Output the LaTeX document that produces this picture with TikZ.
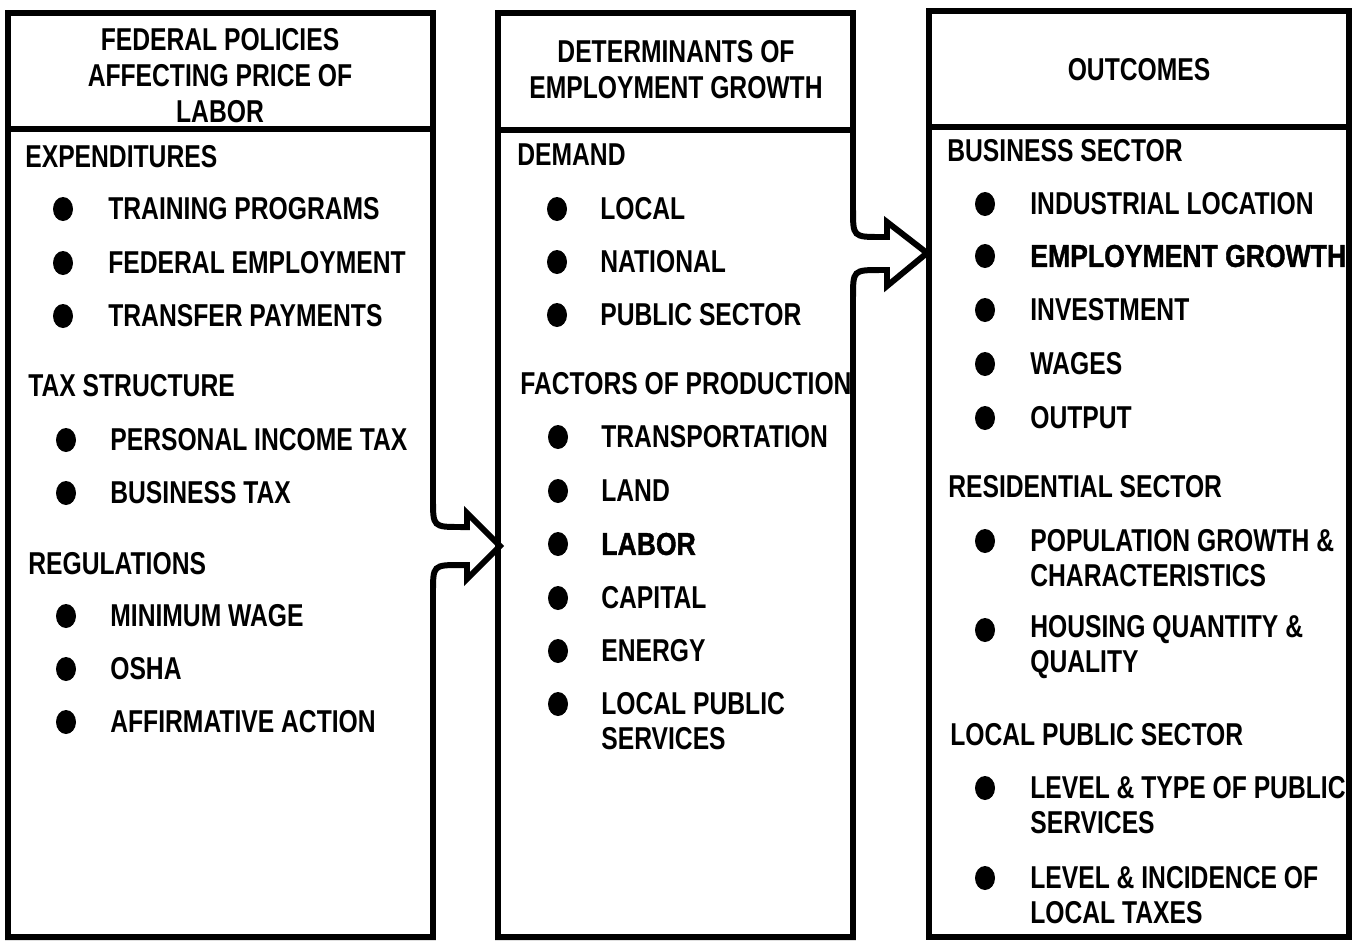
\documentclass[tikz,border=0pt]{standalone}
\usepackage{fontspec}
\setmainfont{Liberation Sans}[FakeStretch=0.78]
\newfontfamily\heavyfont{Liberation Sans}[FakeStretch=0.84, FakeBold=1.2]

\begin{document}
\begin{tikzpicture}[x=0.02cm, y=-0.02cm,
    panel/.style={line width=3.4pt},
    divider/.style={line width=3pt},
    headtext/.style={align=center, inner sep=0pt, font=\bfseries\fontsize{18}{20.5}\selectfont},
    itemtext/.style={anchor=west, align=left, inner sep=0pt, font=\bfseries\fontsize{18}{20}\selectfont}]
    \useasboundingbox (0,0) rectangle (1352,941);

    % Left panel with arrow into the middle panel
    \draw[panel] (8,13) -- (433,13) -- (433,499) .. controls (433,527) .. (461,527)
        -- (467,527) -- (467,513) -- (500,546) -- (467,579) -- (467,565) -- (461,565)
        .. controls (433,565) .. (433,593) -- (433,937) -- (8,937) -- cycle;
    \draw[divider] (8,129) -- (433,129);

    % Middle panel with arrow into the right panel
    \draw[panel] (498,13) -- (853,13) -- (853,209) .. controls (853,237) .. (881,237)
        -- (887,237) -- (887,222) -- (927,253) -- (887,286) -- (887,270) -- (881,270)
        .. controls (853,270) .. (853,298) -- (853,937) -- (498,937) -- cycle;
    \draw[divider] (498,130) -- (853,130);

    % Right panel
    \draw[panel] (929,11) -- (1349,11) -- (1349,937) -- (929,937) -- cycle;
    \draw[divider] (929,127) -- (1349,127);

    % Headings
    \node[headtext] (fedhead) at (220,76) {FEDERAL POLICIES\\AFFECTING PRICE OF\\LABOR};
    \node[headtext] (dethead) at (676,70) {DETERMINANTS OF\\EMPLOYMENT GROWTH};
    \node[headtext] (outhead) at (1139,70) {OUTCOMES};

    % Left panel items
    \node[itemtext] (exp) at (25,157) {EXPENDITURES};
    \foreach \txt/\yy [count=\i] in {TRAINING PROGRAMS/209, FEDERAL EMPLOYMENT/263, TRANSFER PAYMENTS/316} {
        \fill (63,\yy) ellipse[x radius=10, y radius=12];
        \node[itemtext] (exp\i) at (108,\yy) {\txt};
    }
    \node[itemtext] (tax) at (28,386) {TAX STRUCTURE};
    \foreach \txt/\yy [count=\i] in {PERSONAL INCOME TAX/440, BUSINESS TAX/493} {
        \fill (66,\yy) ellipse[x radius=10, y radius=12];
        \node[itemtext] (tax\i) at (110,\yy) {\txt};
    }
    \node[itemtext] (reg) at (28,564) {REGULATIONS};
    \foreach \txt/\yy [count=\i] in {MINIMUM WAGE/616, OSHA/669, AFFIRMATIVE ACTION/722} {
        \fill (66,\yy) ellipse[x radius=10, y radius=12];
        \node[itemtext] (reg\i) at (110,\yy) {\txt};
    }

    % Middle panel items
    \node[itemtext] (dem) at (517,155) {DEMAND};
    \foreach \txt/\yy [count=\i] in {LOCAL/209, NATIONAL/262, PUBLIC SECTOR/315} {
        \fill (557,\yy) ellipse[x radius=10, y radius=12];
        \node[itemtext] (dem\i) at (600,\yy) {\txt};
    }
    \node[itemtext] (fac) at (520,384) {FACTORS OF PRODUCTION};
    \foreach \txt/\yy [count=\i] in {TRANSPORTATION/437, LAND/491, {\heavyfont LABOR}/544,
        CAPITAL/598, ENERGY/651} {
        \fill (558,\yy) ellipse[x radius=10, y radius=12];
        \node[itemtext] (fac\i) at (601,\yy) {\txt};
    }
    \fill (558,704) ellipse[x radius=10, y radius=12];
    \node[itemtext] (fac6) at (601,721) {LOCAL PUBLIC\\SERVICES};

    % Right panel items
    \node[itemtext] (bus) at (947,151) {BUSINESS SECTOR};
    \foreach \txt/\yy [count=\i] in {INDUSTRIAL LOCATION/204, {\heavyfont EMPLOYMENT GROWTH}/256,
        INVESTMENT/310, WAGES/364, OUTPUT/418} {
        \fill (985,\yy) ellipse[x radius=10, y radius=12];
        \node[itemtext] (bus\i) at (1030,\yy) {\txt};
    }
    \node[itemtext] (res) at (948,487) {RESIDENTIAL SECTOR};
    \foreach \txt/\yy [count=\i] in {{POPULATION GROWTH \&\\CHARACTERISTICS}/541, {HOUSING QUANTITY \&\\QUALITY}/630} {
        \fill (985,\yy) ellipse[x radius=10, y radius=12];
        \node[itemtext] (res\i) at (1030,\yy+17) {\txt};
    }
    \node[itemtext] (pub) at (950,735) {LOCAL PUBLIC SECTOR};
    \foreach \txt/\yy [count=\i] in {{LEVEL \& TYPE OF PUBLIC\\SERVICES}/788, {LEVEL \& INCIDENCE OF\\LOCAL TAXES}/878} {
        \fill (985,\yy) ellipse[x radius=10, y radius=12];
        \node[itemtext] (pub\i) at (1030,\yy+17) {\txt};
    }
\end{tikzpicture}
\end{document}
